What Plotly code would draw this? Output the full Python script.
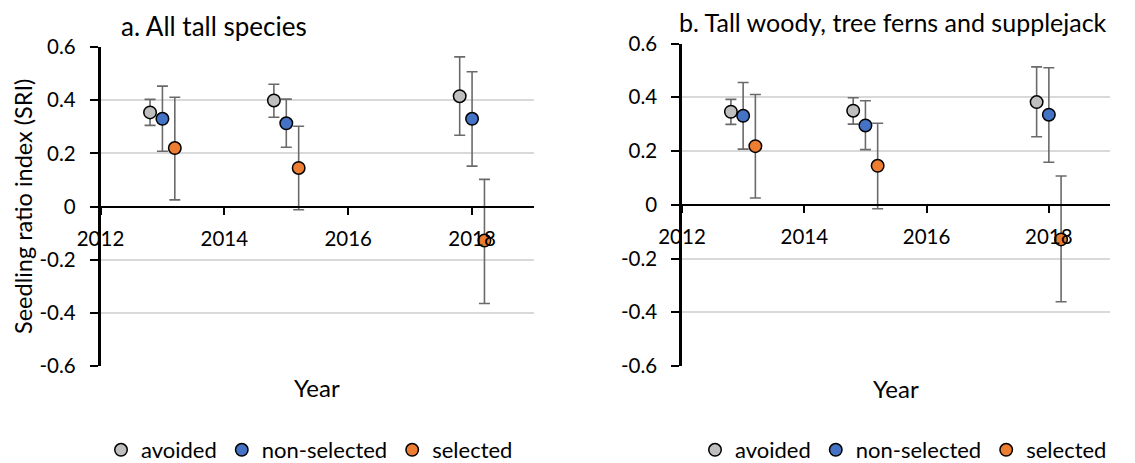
import plotly.graph_objects as go

# ---- data ----
series_names = ["avoided", "non-selected", "selected"]
series_colors = ["#BFBFBF", "#4472C4", "#ED7D31"]
x_avoided = [2012.8, 2014.8, 2017.8]
x_nonsel = [2013.0, 2015.0, 2018.0]
x_sel = [2013.2, 2015.2, 2018.2]

# panel a: All tall species
a_avoided = [0.354, 0.399, 0.415]
a_avoided_hi = [0.403, 0.460, 0.563]
a_avoided_lo = [0.305, 0.336, 0.268]
a_nonsel = [0.330, 0.313, 0.330]
a_nonsel_hi = [0.453, 0.404, 0.507]
a_nonsel_lo = [0.208, 0.223, 0.152]
a_sel = [0.220, 0.145, -0.128]
a_sel_hi = [0.411, 0.302, 0.102]
a_sel_lo = [0.025, -0.012, -0.365]

# panel b: Tall woody, tree ferns and supplejack
b_avoided = [0.346, 0.350, 0.382]
b_avoided_hi = [0.392, 0.398, 0.513]
b_avoided_lo = [0.299, 0.300, 0.253]
b_nonsel = [0.331, 0.295, 0.335]
b_nonsel_hi = [0.455, 0.387, 0.510]
b_nonsel_lo = [0.207, 0.205, 0.158]
b_sel = [0.218, 0.145, -0.129]
b_sel_hi = [0.410, 0.303, 0.107]
b_sel_lo = [0.025, -0.015, -0.361]

x_ticks = [2012, 2014, 2016, 2018]
y_ticks = [-0.6, -0.4, -0.2, 0, 0.2, 0.4, 0.6]
y_ticktext = ["-0.6", "-0.4", "-0.2", "0", "0.2", "0.4", "0.6"]

FONT = "Lato"
OFF = 8                      # default page body margin
W, H = 1135 - OFF, 463 - OFF  # figure size so that it fits the window

fig = go.Figure()

def add_series(xs, ys, hi, lo, name, color, xa, ya, legend):
    fig.add_trace(go.Scatter(
        x=xs, y=ys, mode="markers", name=name,
        xaxis=xa, yaxis=ya, legend=legend,
        marker=dict(size=12.5, color=color, line=dict(color="black", width=1.5)),
        error_y=dict(type="data", symmetric=False,
                     array=[h - v for h, v in zip(hi, ys)],
                     arrayminus=[v - l for v, l in zip(ys, lo)],
                     color="#6A6A6A", thickness=1.6, width=5.5),
        cliponaxis=False,
    ))

panels = [
    ("x", "y", "legend", [
        (x_avoided, a_avoided, a_avoided_hi, a_avoided_lo),
        (x_nonsel, a_nonsel, a_nonsel_hi, a_nonsel_lo),
        (x_sel, a_sel, a_sel_hi, a_sel_lo)]),
    ("x2", "y2", "legend2", [
        (x_avoided, b_avoided, b_avoided_hi, b_avoided_lo),
        (x_nonsel, b_nonsel, b_nonsel_hi, b_nonsel_lo),
        (x_sel, b_sel, b_sel_hi, b_sel_lo)]),
]
for xa, ya, lg, data in panels:
    for (xs, ys, hi, lo), nm, col in zip(data, series_names, series_colors):
        add_series(xs, ys, hi, lo, nm, col, xa, ya, lg)

# helpers: page pixel -> paper fraction
def px(x):
    return (x - OFF) / W

def py(y):
    return 1 - (y - OFF) / H

# plot areas in page pixels
pa = dict(x0=100.5, x1=534, y0=47, y1=366)
pb = dict(x0=682, x1=1110, y0=43.5, y1=366)

def xdom(p):
    return [px(p["x0"]), px(p["x1"])]

def ydom(p):
    return [py(p["y1"]), py(p["y0"])]

def xaxis_cfg(p):
    yd = ydom(p)
    return dict(domain=xdom(p), range=[2012, 2019], tickvals=x_ticks,
                ticks="outside", ticklen=7, tickwidth=2, tickcolor="black",
                showline=True, linecolor="black", linewidth=2,
                showgrid=False, zeroline=False, anchor="free",
                position=(yd[0] + yd[1]) / 2, ticklabelstandoff=7,
                tickfont=dict(family=FONT, size=20.5, color="black"))

def yaxis_cfg(p, xname):
    return dict(domain=ydom(p), range=[-0.6, 0.6], tickvals=y_ticks,
                ticktext=y_ticktext, ticks="outside", ticklen=8,
                tickwidth=2, tickcolor="black",
                showline=True, linecolor="black", linewidth=2.5,
                showgrid=True, gridcolor="#D9D9D9", gridwidth=1.5,
                zeroline=False, anchor=xname, ticklabelstandoff=10,
                tickfont=dict(family=FONT, size=20.5, color="black"))

leg_common = dict(orientation="h", xanchor="left", yanchor="middle",
                  font=dict(family=FONT, size=22), itemwidth=30,
                  bgcolor="rgba(0,0,0,0)", borderwidth=0,
                  tracegroupgap=0)

fig.update_layout(
    width=W, height=H,
    margin=dict(l=0, r=0, t=0, b=0, autoexpand=False),
    paper_bgcolor="white", plot_bgcolor="white",
    font=dict(family=FONT, size=20, color="black"),
    xaxis=xaxis_cfg(pa),
    yaxis=yaxis_cfg(pa, "x"),
    xaxis2=xaxis_cfg(pb),
    yaxis2=yaxis_cfg(pb, "x2"),
    legend=dict(leg_common, x=px(101), y=py(450)),
    legend2=dict(leg_common, x=px(695), y=py(450)),
    showlegend=True,
)

annotations = [
    dict(text="a. All tall species", x=px(119), y=py(26), xanchor="left",
         yanchor="middle", font=dict(size=26)),
    dict(text="b. Tall woody, tree ferns and supplejack", x=px(677),
         y=py(22), xanchor="left", yanchor="middle", font=dict(size=25)),
    dict(text="Year", x=px(317), y=py(387), xanchor="center",
         yanchor="middle", font=dict(size=24)),
    dict(text="Year", x=px(896), y=py(388), xanchor="center",
         yanchor="middle", font=dict(size=24)),
    dict(text="Seedling ratio index (SRI)", x=px(23), y=py(207),
         xanchor="center", yanchor="middle", textangle=-90,
         font=dict(size=23.5)),
]
for a in annotations:
    a.update(xref="paper", yref="paper", showarrow=False)
    a["font"].update(family=FONT, color="black")
fig.update_layout(annotations=annotations)

fig.write_html("out.html")
